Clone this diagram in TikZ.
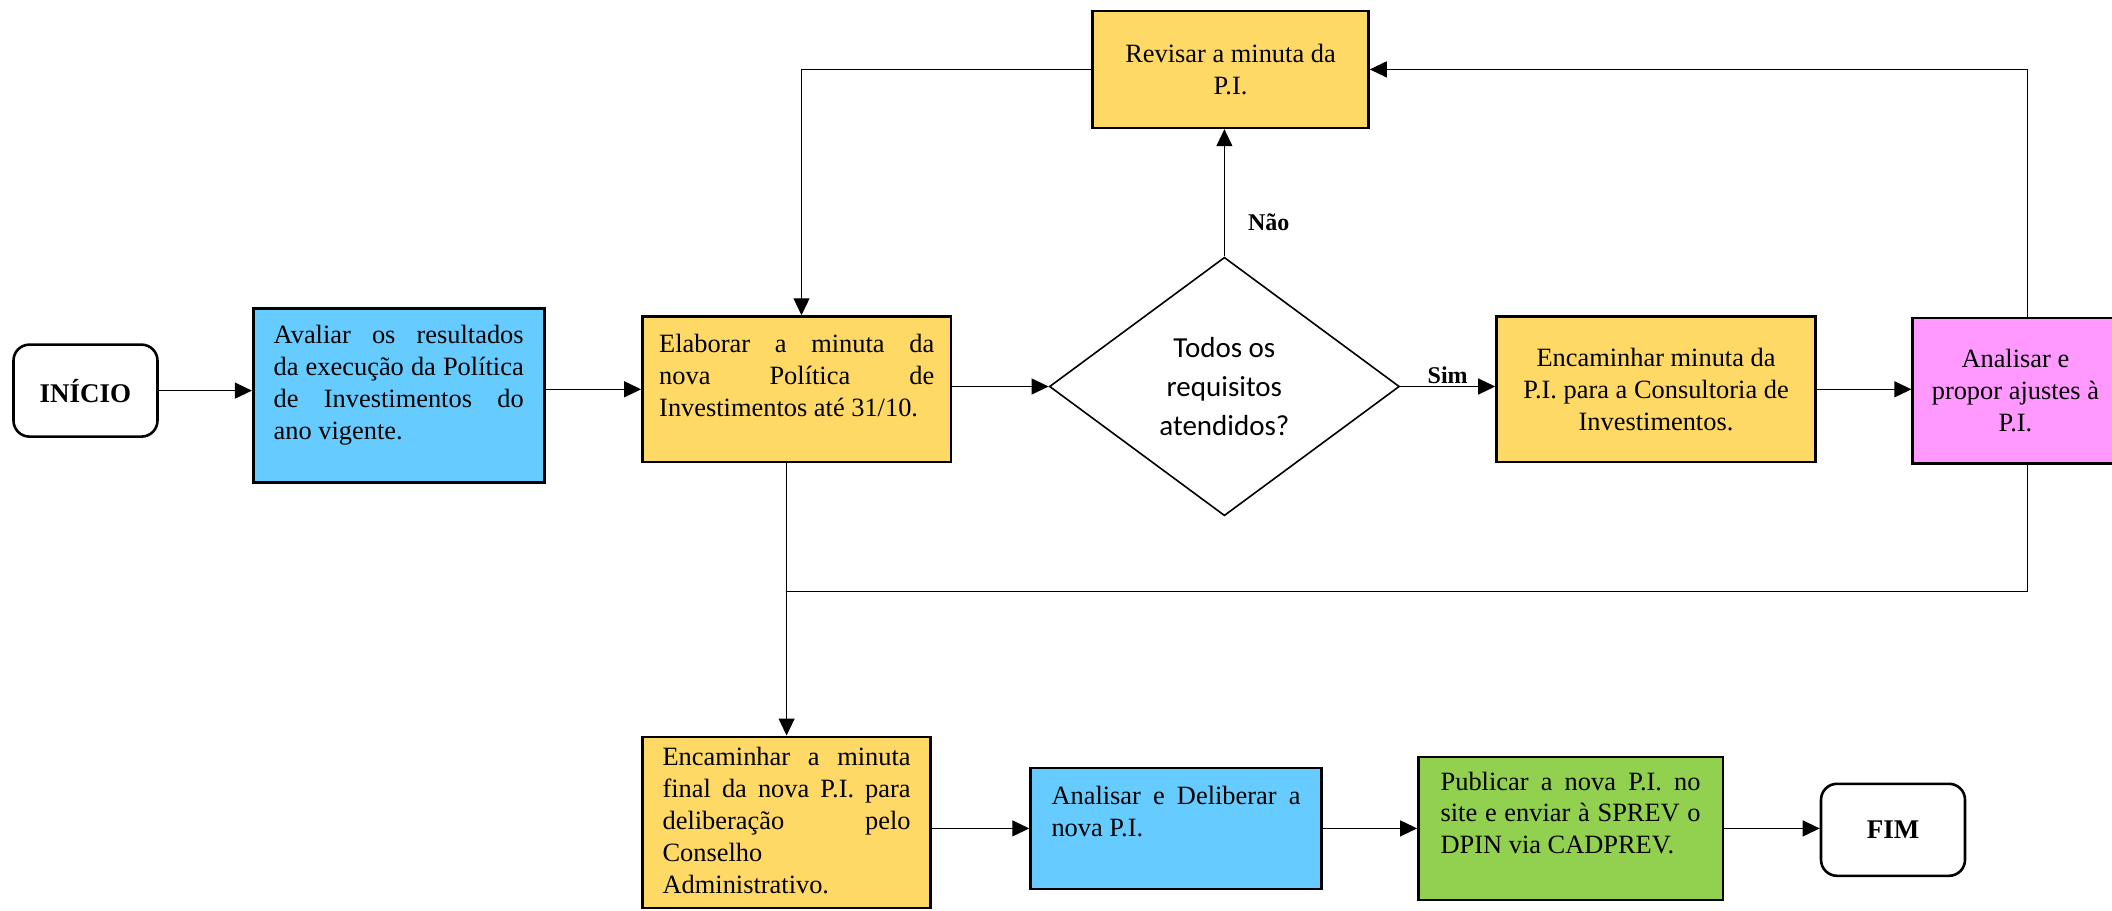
\documentclass[tikz,border=0pt]{standalone}
\usepackage{fontspec}
\setmainfont{Liberation Serif}
\newfontfamily\calibri{Carlito}
\usetikzlibrary{arrows.meta,shapes.geometric}
\definecolor{ylw}{HTML}{FFD966}
\definecolor{blu}{HTML}{66CCFF}
\definecolor{pnk}{HTML}{FF99FF}
\definecolor{grn}{HTML}{92D050}
\newcommand\jline[1]{\makebox[\linewidth][s]{#1}}
\tikzset{
  boxbase/.style={draw=black, line width=1.3pt, inner sep=0pt, font=\fontsize{13.2}{15.9}\selectfont},
  ybox/.style={boxbase, fill=ylw},
  bbox/.style={boxbase, fill=blu},
  pbox/.style={boxbase, fill=pnk},
  gbox/.style={boxbase, fill=grn},
  term/.style={draw=black, line width=1.3pt, rounded corners=8pt, fill=white, font=\fontsize{13.5}{16}\selectfont\bfseries, minimum width=72pt, minimum height=46pt, inner sep=0pt},
  conn/.style={line width=0.6pt, -{Triangle[length=8.5pt,width=8pt]}},
  plain/.style={line width=0.6pt},
  lbl/.style={font=\fontsize{12}{14}\selectfont\bfseries, inner sep=1pt}
}
\begin{document}
\begin{tikzpicture}[x=0.5pt,y=-0.5pt]
\useasboundingbox (0,0) rectangle (2112,910);
% nodes
\node[term] (ini) at (85.5,390.6) {INÍCIO};
\node[bbox, minimum width=145.5pt, minimum height=87pt] (aval) at (398.7,395.4)
  {\parbox[c][71.5pt][t]{125pt}{\rule{0pt}{10pt}\jline{Avaliar os resultados}\\\jline{da execução da Política}\\\jline{de Investimentos do}\\ano vigente.}};
\node[ybox, minimum width=154.25pt, minimum height=72.75pt] (ela) at (796.7,389.3)
  {\parbox[c][56.75pt][t]{137.5pt}{\rule{0pt}{10pt}\jline{Elaborar a minuta da}\\\jline{nova Política de}\\Investimentos até 31/10.}};
\node[diamond, draw=black, line width=0.8pt, minimum width=175pt, minimum height=129.25pt, inner sep=0pt, font=\calibri\fontsize{14.5}{19.5}\selectfont] (dec) at (1224.4,386.5)
  {\makebox[0pt]{\raisebox{-4.5pt}[0pt][0pt]{\begin{tabular}{@{}c@{}}Todos os\\requisitos\\atendidos?\end{tabular}}}};
\node[ybox, minimum width=159.5pt, minimum height=72.75pt, align=center] (enc) at (1656,389.3)
  {Encaminhar minuta da\\P.I. para a Consultoria de\\Investimentos.};
\node[pbox, minimum width=102.65pt, minimum height=72.7pt, align=center] (ana) at (2015.35,390.7)
  {Analisar e\\propor ajustes à\\P.I.};
\node[ybox, minimum width=138pt, minimum height=58.5pt, align=center] (rev) at (1230.5,69.4)
  {Revisar a minuta da\\P.I.};
\node[ybox, minimum width=144pt, minimum height=85.6pt] (fin) at (786.6,822.4)
  {\parbox[c][76.5pt][t]{124pt}{\rule{0pt}{10pt}\jline{Encaminhar a minuta}\\\jline{final da nova P.I. para}\\\jline{deliberação pelo}\\Conselho\\Administrativo.}};
\node[bbox, minimum width=145.45pt, minimum height=60.6pt] (del) at (1176,828.4)
  {\parbox[c][43.5pt][t]{124.5pt}{\rule{0pt}{10pt}\jline{Analisar e Deliberar a}\\nova P.I.}};
\node[gbox, minimum width=152.2pt, minimum height=71.4pt] (pub) at (1570.6,828.4)
  {\parbox[c][58.4pt][t]{130pt}{\rule{0pt}{10pt}\jline{Publicar a nova P.I. no}\\\jline{site e enviar à SPREV o}\\DPIN via CADPREV.}};
\node[term] (fim) at (1893,829.8) {FIM};
\coordinate (jy) at (0,591.3);
% connectors
\draw[conn] (ini.east) -- (ini.east -| aval.west);
\draw[conn] (aval.east |- ela.west) -- (ela.west);
\draw[conn] (ela.east |- dec.west) -- (dec.west);
\draw[conn] (dec.east) -- node[lbl, above]{Sim} (dec.east -| enc.west);
\draw[conn] (enc.east) -- (enc.east -| ana.west);
\draw[conn] (dec.north) -- node[lbl, pos=0.27, right, xshift=10.5pt]{Não} (dec.north |- rev.south);
\draw[conn] (rev.west) -| ([xshift=2.4pt]ela.north);
\draw[conn] ([xshift=6pt]ana.north) |- (rev.east);
\draw[conn] (fin.north |- ela.south) -- (fin.north);
\draw[plain] ([xshift=6pt]ana.south) |- (fin.north |- jy);
\draw[conn] (fin.east |- del.west) -- (del.west);
\draw[conn] (del.east) -- (del.east -| pub.west);
\draw[conn] (pub.east) -- (pub.east -| fim.west);
\end{tikzpicture}
\end{document}
